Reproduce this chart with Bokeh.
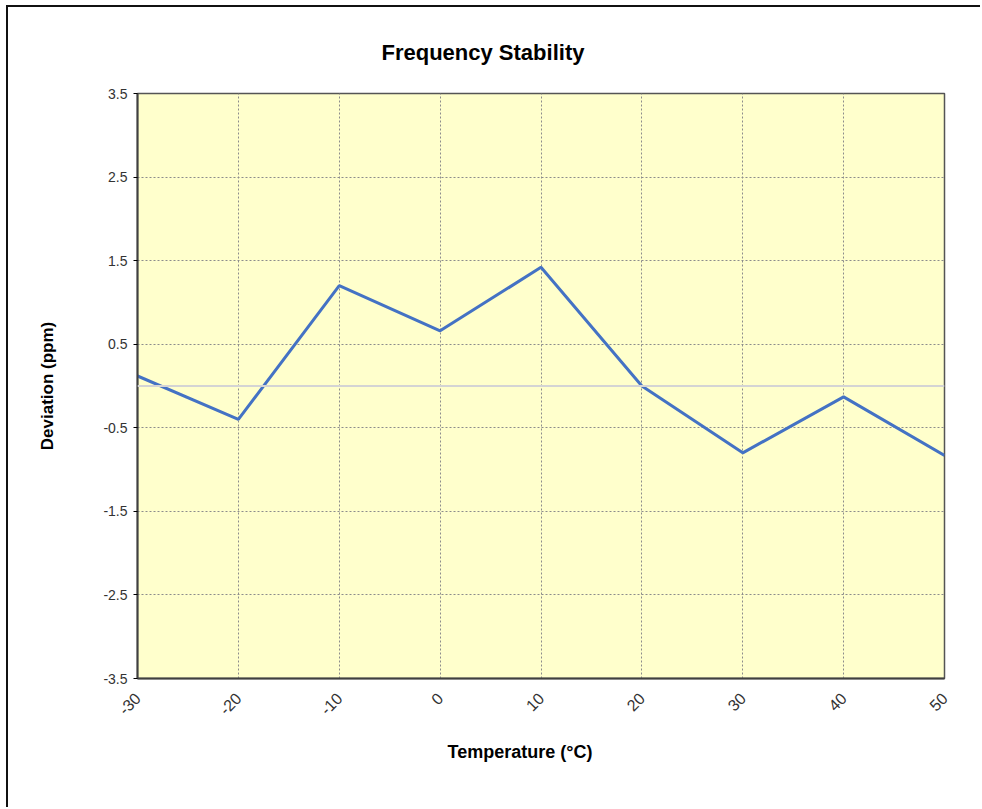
from math import pi
from bokeh.plotting import figure
from bokeh.models import Range1d, FixedTicker, Span, Title
from bokeh.embed import file_html
from bokeh.resources import INLINE

temperature = [-30, -20, -10, 0, 10, 20, 30, 40, 50]
deviation = [0.12, -0.40, 1.20, 0.66, 1.42, 0.00, -0.80, -0.13, -0.83]
y_ticks = [-3.5, -2.5, -1.5, -0.5, 0.5, 1.5, 2.5, 3.5]
y_tick_labels = ["-3.5", "-2.5", "-1.5", "-0.5", "0.5", "1.5", "2.5", "3.5"]
x_ticks = [-30, -20, -10, 0, 10, 20, 30, 40, 50]
x_tick_labels = ["-30", "-20", "-10", "0", "10", "20", "30", "40", "50"]

FONT = "Liberation Sans"

p = figure(width=974, height=802, output_backend="svg", toolbar_location=None,
           x_range=Range1d(-30, 50), y_range=Range1d(-3.5, 3.5),
           min_border_left=129, min_border_right=38, min_border_top=86, min_border_bottom=131)

p.styles = {"border-left": "2px solid #111111", "border-top": "2px solid #111111",
            "margin-left": "6px", "margin-top": "5px"}

p.background_fill_color = "#FFFFCC"
p.border_fill_color = "white"
p.outline_line_color = "#555555"
p.outline_line_width = 1.5

# Title
p.title.text = "Frequency Stability"
p.title.align = "left"
p.title.offset = 244
p.title.text_font = FONT
p.title.text_font_size = "22px"
p.title.text_font_style = "bold"
p.title.text_color = "black"
p.title.standoff = 57

# Axes
p.xaxis.ticker = FixedTicker(ticks=x_ticks)
p.yaxis.ticker = FixedTicker(ticks=y_ticks)
p.xaxis.major_label_overrides = {t: s for t, s in zip(x_ticks, x_tick_labels)}
p.yaxis.major_label_overrides = {t: s for t, s in zip(y_ticks, y_tick_labels)}
for ax in (p.xaxis, p.yaxis):
    ax.axis_line_color = "#404040"
    ax.axis_line_width = 2
    ax.minor_tick_line_color = None
    ax.major_label_text_font = FONT
    ax.major_label_text_color = "#333333"

p.yaxis.major_tick_out = 4
p.yaxis.major_tick_in = 0
p.yaxis.major_tick_line_color = "black"
p.yaxis.major_label_text_font_size = "14px"
p.yaxis.major_label_standoff = 6
p.yaxis.axis_label = "Deviation (ppm)"
p.yaxis.axis_label_text_font = FONT
p.yaxis.axis_label_text_font_size = "17px"
p.yaxis.axis_label_text_font_style = "bold"
p.yaxis.axis_label_text_color = "black"
p.yaxis.axis_label_standoff = 43

p.xaxis.major_tick_line_color = None
p.xaxis.major_tick_out = 0
p.xaxis.major_tick_in = 0
p.xaxis.major_label_text_font_size = "16px"
p.xaxis.major_label_orientation = pi / 4
p.xaxis.major_label_standoff = 17

xlabel = Title(text="Temperature (°C)", align="left", offset=310,
               text_font=FONT, text_font_size="18px", text_font_style="bold",
               text_color="black", standoff=32)
p.add_layout(xlabel, "below")

# Grid
for g in (p.xgrid, p.ygrid):
    g.grid_line_color = "#8c8c8c"
    g.grid_line_dash = "2 2"
    g.grid_line_width = 1

# Zero line
p.add_layout(Span(location=0, dimension="width", line_color="#d4d4d4", line_width=2))

p.line(temperature, deviation, line_color="#4472C4", line_width=3)

open("out.html", "w").write(file_html(p, INLINE))
